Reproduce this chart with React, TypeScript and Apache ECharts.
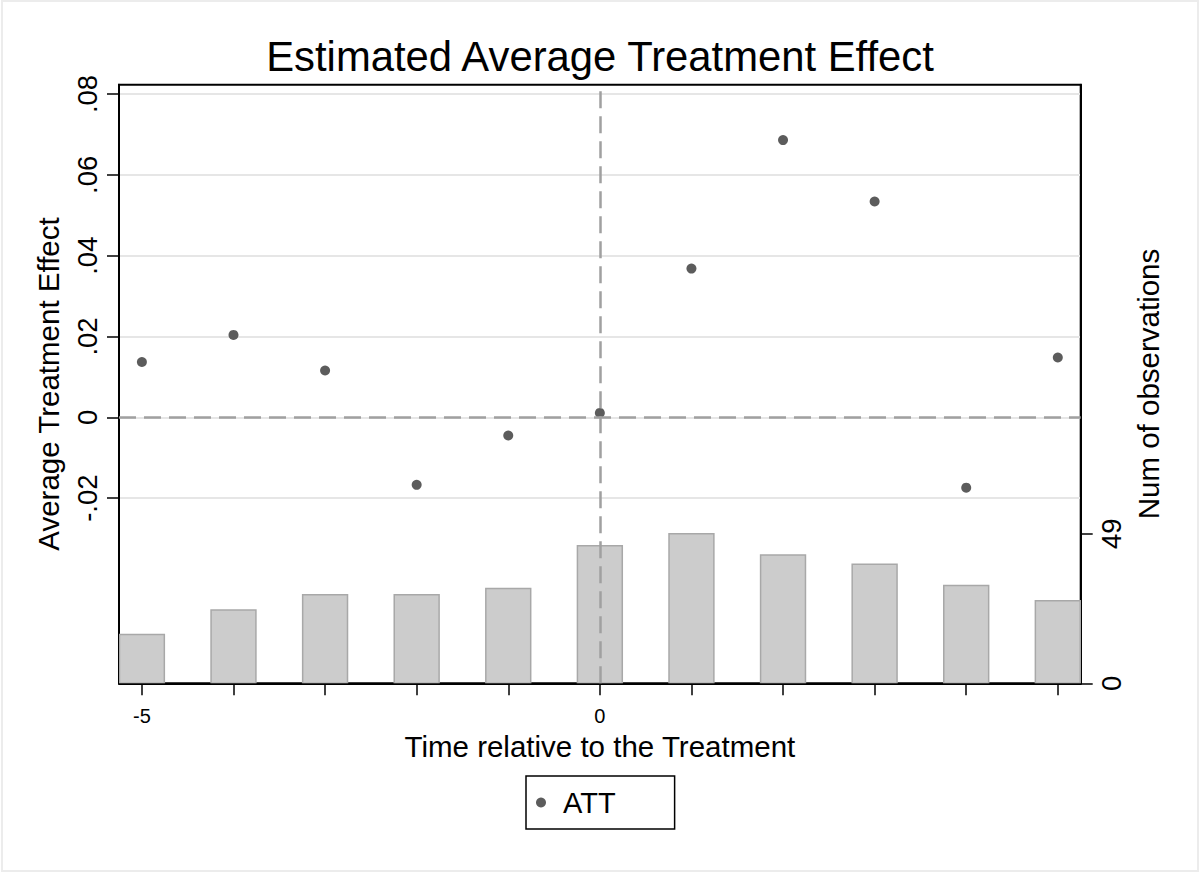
import React, { useEffect, useRef } from "react";
import * as echarts from "echarts";

const periods = [-5, -4, -3, -2, -1, 0, 1, 2, 3, 4, 5];
const attValues = [0.0137, 0.0204, 0.0116, -0.0167, -0.0045, 0.0011, 0.0368, 0.0686, 0.0534, -0.0174, 0.0148];
const numObs = [16, 24, 29, 29, 31, 45, 49, 42, 39, 32, 27];
const xTickValues = [-5, -4, -3, -2, -1, 0, 1, 2, 3, 4, 5];
const xLabelValues = [-5, 0];
const yTickValues = [-0.02, 0, 0.02, 0.04, 0.06, 0.08];
const y2TickValues = [0, 49];

const FONT = "'Liberation Sans', Arial, Helvetica, sans-serif";

function stataFmt(v: number): string {
  if (Math.abs(v) < 1e-12) return "0";
  const s = Math.abs(v).toFixed(2).replace(/^0/, "");
  return (v < 0 ? "-" : "") + s;
}

export default function App() {
  const ref = useRef<HTMLDivElement>(null);
  useEffect(() => {
    if (!ref.current) return;
    const chart = echarts.init(ref.current, null, { renderer: "svg" });
    const scatterData = periods.map((p, i) => [p, attValues[i]]);
    const barData = periods.map((p, i) => [p, numObs[i]]);
    const halfW = 0.245;
    chart.setOption({
      animation: false,
      backgroundColor: "#ffffff",
      textStyle: { fontFamily: FONT },
      title: {
        text: "Estimated Average Treatment Effect",
        left: "center",
        top: 30,
        textStyle: { fontFamily: FONT, fontSize: 41.8, fontWeight: "normal", color: "#000" },
      },
      graphic: [
        {
          type: "rect",
          shape: { x: 2, y: 1, width: 1196, height: 870 },
          style: { fill: "none", stroke: "#ececec", lineWidth: 2 },
          silent: true,
        },
      ],
      legend: {
        data: [{ name: "ATT", icon: "circle" }],
        left: 526,
        top: 776,
        orient: "horizontal",
        itemWidth: 30,
        itemHeight: 10,
        itemGap: 0,
        padding: [12, 59, 12, 10],
        borderColor: "#000",
        borderWidth: 1.5,
        textStyle: { fontFamily: FONT, fontSize: 29, color: "#000", padding: [0, 0, 0, 2] },
      },
      grid: {
        left: 119,
        right: 119.3,
        top: 84.7,
        bottom: 189.7,
        show: true,
        borderColor: "#000",
        borderWidth: 2,
        backgroundColor: "transparent",
      },
      xAxis: {
        type: "value",
        min: -5.25,
        max: 5.25,
        name: "Time relative to the Treatment",
        nameLocation: "middle",
        nameGap: 40,
        nameTextStyle: { fontFamily: FONT, fontSize: 29.5, color: "#000" },
        axisLine: { onZero: false, lineStyle: { color: "#000", width: 2 } },
        axisTick: { customValues: xTickValues, length: 12, lineStyle: { color: "#000", width: 1.5 } },
        axisLabel: {
          customValues: xLabelValues,
          margin: 23,
          fontFamily: FONT,
          fontSize: 20,
          color: "#000",
          formatter: (v: number) => String(v),
        },
        splitLine: { show: false },
      },
      yAxis: [
        {
          type: "value",
          min: -0.0658,
          max: 0.0823,
          position: "left",
          name: "Average Treatment Effect",
          nameLocation: "middle",
          nameGap: 56,
          nameTextStyle: { fontFamily: FONT, fontSize: 29.5, color: "#000" },
          axisLine: { show: true, onZero: false, lineStyle: { color: "#000", width: 2 } },
          axisTick: { show: true, customValues: yTickValues, length: 12, lineStyle: { color: "#000", width: 1.5 } },
          axisLabel: {
            customValues: yTickValues,
            rotate: 90,
            margin: 18,
            fontFamily: FONT,
            fontSize: 27.5,
            color: "#000",
            formatter: (v: number) => stataFmt(v),
          },
          splitLine: { show: true, lineStyle: { color: "#e6e6e6", width: 2 } },
        },
        {
          type: "value",
          min: 0,
          max: 196,
          position: "right",
          name: "Num of observations",
          nameLocation: "middle",
          nameGap: 51,
          nameTextStyle: { fontFamily: FONT, fontSize: 29.5, color: "#000" },
          axisLine: { show: true, onZero: false, lineStyle: { color: "#000", width: 2 } },
          axisTick: { show: true, customValues: y2TickValues, length: 12, lineStyle: { color: "#000", width: 1.5 } },
          axisLabel: {
            customValues: y2TickValues,
            rotate: 90,
            margin: 17,
            fontFamily: FONT,
            fontSize: 27.5,
            color: "#000",
            formatter: (v: number) => String(v),
          },
          splitLine: { show: false },
        },
      ],
      series: [
        {
          name: "Num obs",
          type: "custom",
          xAxisIndex: 0,
          yAxisIndex: 1,
          z: 1,
          clip: true,
          data: barData,
          renderItem: (params: any, api: any) => {
            const x = api.value(0);
            const y = api.value(1);
            const p0 = api.coord([x - halfW, 0]);
            const p1 = api.coord([x + halfW, y]);
            return {
              type: "rect",
              shape: { x: p0[0], y: p1[1], width: p1[0] - p0[0], height: p0[1] - p1[1] },
              style: { fill: "#cccccc", stroke: "#a8a8a8", lineWidth: 1.5 },
            };
          },
        },
        {
          name: "ATT",
          type: "scatter",
          xAxisIndex: 0,
          yAxisIndex: 0,
          z: 3,
          symbol: "circle",
          symbolSize: 10,
          itemStyle: { color: "#5c5c5c", opacity: 1 },
          data: scatterData,
          markLine: {
            silent: true,
            symbol: "none",
            label: { show: false },
            lineStyle: { color: "#a0a0a0", width: 2.5, type: [17, 8], opacity: 1 },
            data: [{ xAxis: 0 }, { yAxis: 0 }],
          },
        },
      ],
    });
    return () => chart.dispose();
  }, []);
  return (
    <div
      ref={ref}
      style={{ position: "fixed", left: 0, top: 0, width: 1200, height: 873, background: "#fff" }}
    />
  );
}
